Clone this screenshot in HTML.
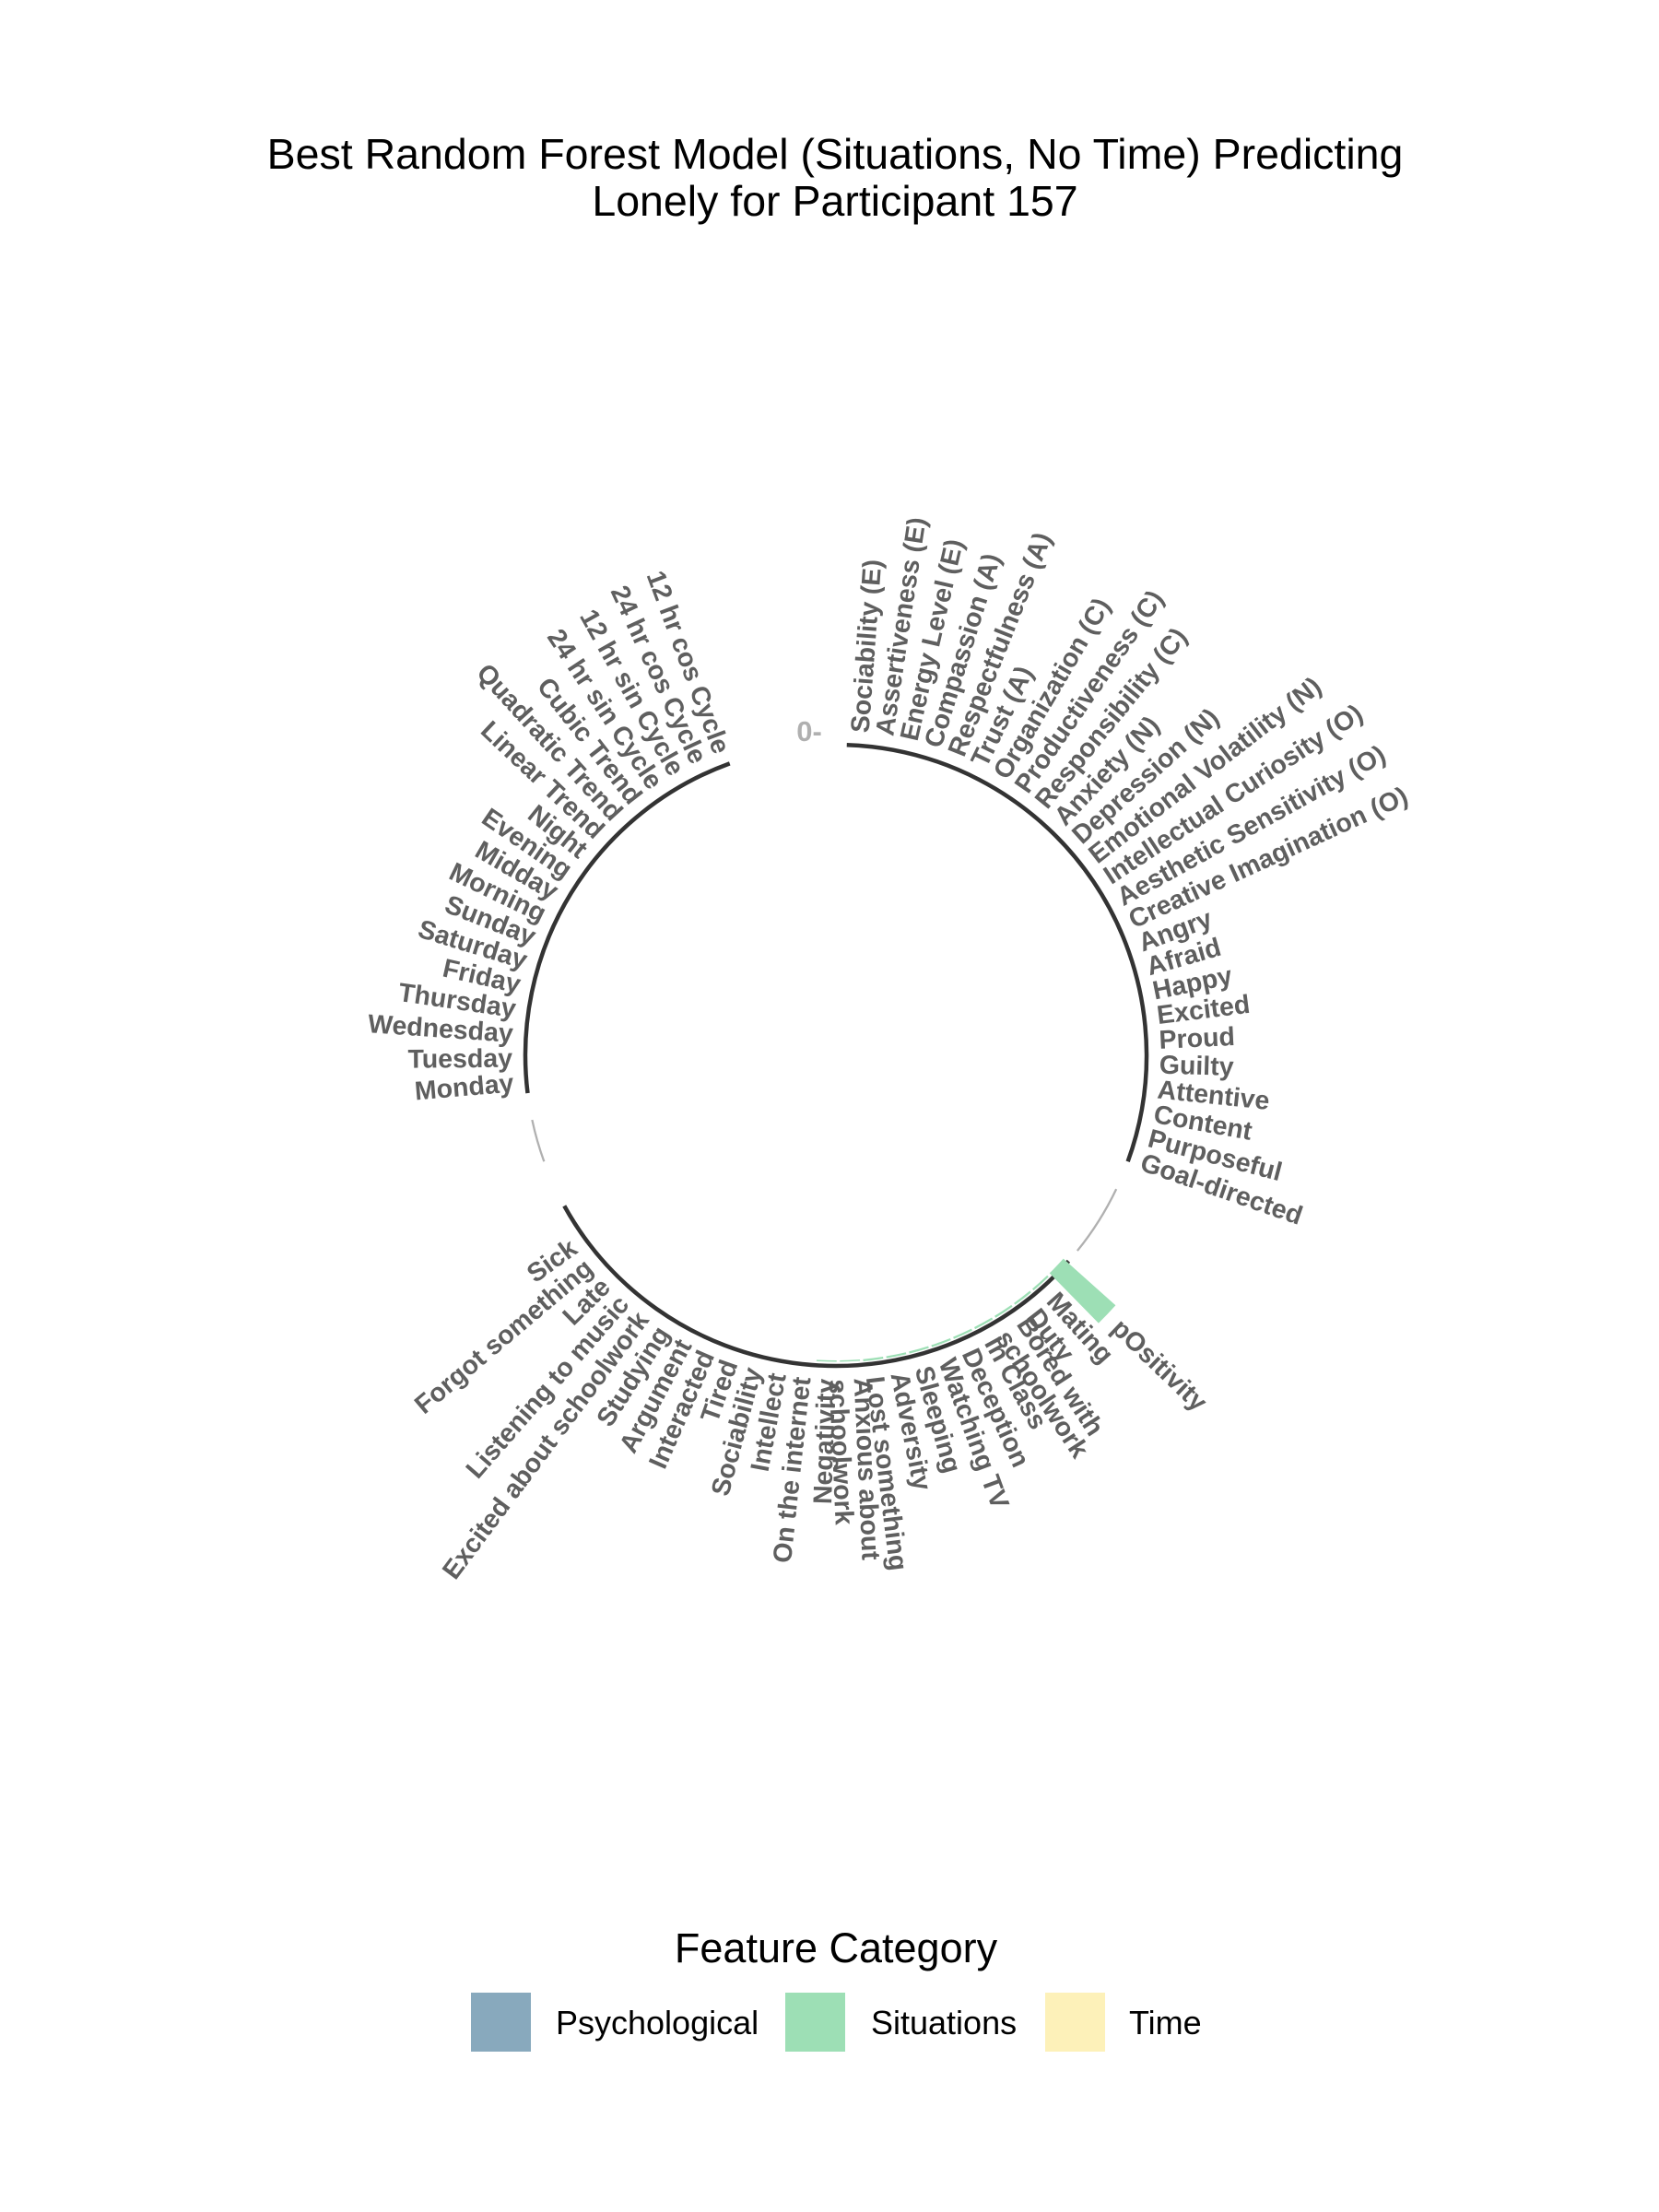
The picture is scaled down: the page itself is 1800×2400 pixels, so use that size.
<!DOCTYPE html>
<html><head><meta charset="utf-8"><style>
html,body{margin:0;padding:0;background:#fff;}
svg{display:block;}
text{font-family:"Liberation Sans",sans-serif;}
</style></head><body>
<svg id="chart" width="1800" height="2400" viewBox="0 0 1800 2400" xmlns="http://www.w3.org/2000/svg">
<rect width="1800" height="2400" fill="#fff"/>
<text x="906" y="183" text-anchor="middle" font-size="46.5" fill="#000">Best Random Forest Model (Situations, No Time) Predicting</text>
<text x="906" y="234" text-anchor="middle" font-size="46.5" fill="#000">Lonely for Participant 157</text>
<g id="plot"></g>
<text x="878" y="804" text-anchor="middle" font-size="31" font-weight="bold" fill="#b0b0b0">0-</text>
<g>
<text x="907" y="2129" text-anchor="middle" font-size="45" fill="#000">Feature Category</text>
<rect x="511" y="2162" width="65" height="64" fill="#88a9bd"/>
<text x="603" y="2207" font-size="36" fill="#000">Psychological</text>
<rect x="852" y="2162" width="65" height="64" fill="#9ddfb5"/>
<text x="945" y="2207" font-size="36" fill="#000">Situations</text>
<rect x="1134" y="2162" width="65" height="64" fill="#fdf1b9"/>
<text x="1225" y="2207" font-size="36" fill="#000">Time</text>
</g>
</svg>
<script>
const psychLabels = ["Sociability (E)","Assertiveness (E)","Energy Level (E)","Compassion (A)","Respectfulness (A)","Trust (A)","Organization (C)","Productiveness (C)","Responsibility (C)","Anxiety (N)","Depression (N)","Emotional Volatility (N)","Intellectual Curiosity (O)","Aesthetic Sensitivity (O)","Creative Imagination (O)","Angry","Afraid","Happy","Excited","Proud","Guilty","Attentive","Content","Purposeful","Goal-directed"];
const psychValues = [0,0,0,0,0,0,0,0,0,0,0,0,0,0,0,0,0,0,0,0,0,0,0,0,0];
const sitLabels = ["pOsitivity","Mating","Duty","Bored with\nschoolwork","In Class","Deception","Watching TV","Sleeping","Adversity","Lost something","Anxious about\nschoolwork","Negativity","On the internet","Intellect","Sociability","Tired","Interacted","Argument","Studying","Excited about schoolwork","Listening to music","Late","Forgot something","Sick"];
const sitValues = [1,0.03,0.03,0.03,0.03,0.03,0.03,0.03,0.03,0.03,0.02,0.02,0,0,0,0,0,0,0,0,0,0,0,0];
const timeLabels = ["Monday","Tuesday","Wednesday","Thursday","Friday","Saturday","Sunday","Morning","Midday","Evening","Night","Linear Trend","Quadratic Trend","Cubic Trend","24 hr sin Cycle","12 hr sin Cycle","24 hr cos Cycle","12 hr cos Cycle"];
const timeValues = [0,0,0,0,0,0,0,0,0,0,0,0,0,0,0,0,0,0];

const NS="http://www.w3.org/2000/svg";
const plot=document.getElementById('plot');
const cx=907, cy=1145, r0=337, k=76, step=4.37, fs=28.5;
function pt(a,r){const t=a*Math.PI/180;return [cx+r*Math.sin(t), cy-r*Math.cos(t)];}
function arcPath(a0,a1,r){const p0=pt(a0,r),p1=pt(a1,r);const large=(a1-a0)>180?1:0;return `M${p0[0]},${p0[1]} A${r},${r} 0 ${large} 1 ${p1[0]},${p1[1]}`;}
function addArc(a0,a1,r,color,w,name){
  const p=document.createElementNS(NS,'path');
  p.setAttribute('d',arcPath(a0,a1,r));p.setAttribute('fill','none');p.setAttribute('stroke',color);p.setAttribute('stroke-width',w);
  
  
  plot.appendChild(p);
}
addArc(2,110,r0,'#333',4.5,'psychological-axis-arc');
addArc(115.5,129,r0,'#b0b0b0',2.3,'gap-arc');
addArc(131.5,241,r0,'#333',4.5,'situations-axis-arc');
addArc(250,258,r0,'#b0b0b0',2.3,'gap-arc');
addArc(263,340,r0,'#333',4.5,'time-axis-arc');

const groups=[
 {labels:psychLabels,values:psychValues,start:2,color:'#88a9bd'},
 {labels:sitLabels,values:sitValues,start:131.5,color:'#9ddfb5'},
 {labels:timeLabels,values:timeValues,start:263,color:'#fdf1b9'}
];
groups.forEach(g=>{
  g.labels.forEach((lab,i)=>{
    const a=g.start+(i+0.5)*step;
    const v=g.values[i];
    let outer=r0;
    if(v>0){
      const rin=r0-6, rout=r0-6+v*k; outer=Math.max(r0,rout);
      const a0=a-step/2+0.3,a1=a+step/2-0.3;
      const p1=pt(a0,rin),p2=pt(a0,rout),p3=pt(a1,rout),p4=pt(a1,rin);
      const bar=document.createElementNS(NS,'path');
      bar.setAttribute('d',`M${p1} L${p2} A${rout},${rout} 0 0 1 ${p3} L${p4} A${rin},${rin} 0 0 0 ${p1}Z`);
      bar.setAttribute('fill',g.color);
      
      
      plot.appendChild(bar);
    }
    const rl=outer+14;
    const p=pt(a,rl);
    const t=document.createElementNS(NS,'text');
    let rot, anchor;
    if(a<180){rot=a-90;anchor='start';}else{rot=a+90;anchor='end';}
    t.setAttribute('transform',`rotate(${rot} ${p[0]} ${p[1]})`);
    t.setAttribute('text-anchor',anchor);
    t.setAttribute('font-size',fs);t.setAttribute('font-weight','bold');t.setAttribute('fill','#5f5f5f');
    const lines=lab.split('\n');
    const lh=fs*0.95;
    lines.forEach((ln,j)=>{
      const ts=document.createElementNS(NS,'tspan');
      ts.setAttribute('x',p[0]);
      ts.setAttribute('y',p[1]+fs*0.35+(j-(lines.length-1)/2)*lh);
      ts.textContent=ln;
      t.appendChild(ts);
    });
    
    
    plot.appendChild(t);
  });
});
</script>
</body></html>
